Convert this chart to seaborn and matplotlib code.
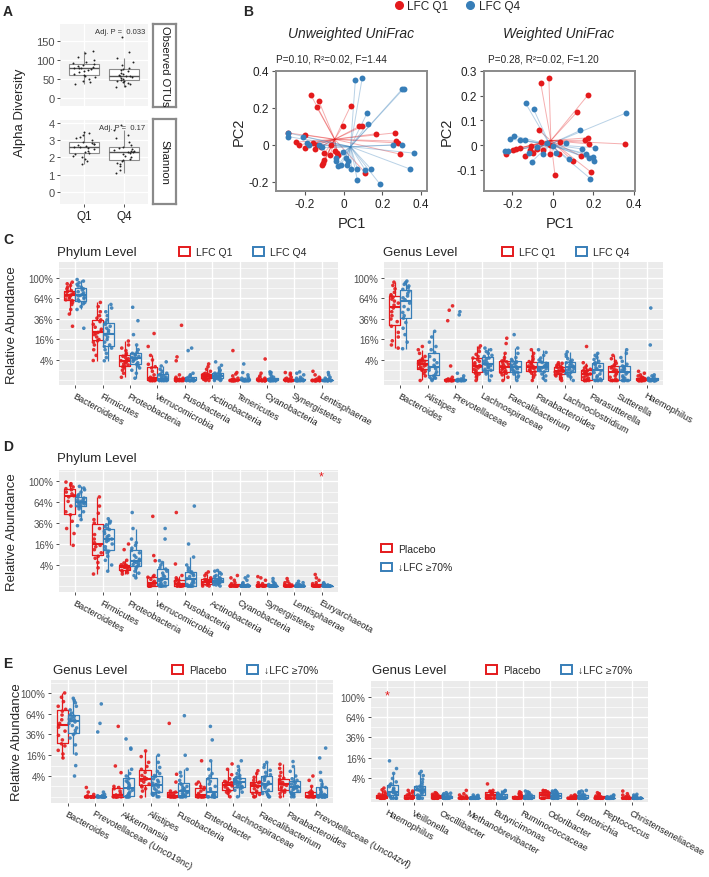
import numpy as np
import pandas as pd
import matplotlib.pyplot as plt
from matplotlib.patches import Patch
from matplotlib.lines import Line2D
import seaborn as sns

W, H = 709, 878
RED = '#E41A1C'
BLUE = '#377EB8'

# ---------------- panel A : alpha diversity
OTU_Q1 = [38, 42, 45, 50, 55, 58, 61, 64, 68, 72, 75, 77, 78, 79, 80, 82, 85, 87, 89, 91, 95, 100, 108, 118, 125]
OTU_Q4 = [30, 33, 36, 40, 42, 44, 46, 48, 50, 53, 55, 57, 58, 59, 60, 63, 66, 70, 73, 76, 80, 88, 95, 105, 122, 160]
SHANNON_Q1 = [1.6, 1.8, 1.9, 2.0, 2.1, 2.2, 2.25, 2.3, 2.4, 2.5, 2.55, 2.6, 2.6, 2.65, 2.7, 2.75, 2.8, 2.85, 2.9, 3.0, 3.1, 3.2, 3.3, 3.4, 3.5]
SHANNON_Q4 = [1.1, 1.3, 1.5, 1.6, 1.7, 1.8, 1.85, 1.9, 2.0, 2.1, 2.2, 2.25, 2.3, 2.3, 2.35, 2.4, 2.45, 2.5, 2.55, 2.6, 2.7, 2.9, 3.1, 3.3, 3.6, 3.9]

# ---------------- panel B : PCoA
UW_Q1_PC1 = [-0.29, -0.17, -0.13, -0.14, 0.035, -0.005, 0.08, 0.095, 0.165, 0.265, 0.27, 0.28, 0.29, 0.11, -0.2, -0.245,
             -0.23, -0.2, -0.16, -0.15, -0.14, -0.1, -0.1, -0.105, -0.11, -0.07, -0.065, -0.045, -0.035, -0.03, -0.12]
UW_Q1_PC2 = [0.065, 0.27, 0.24, 0.205, 0.21, 0.10, 0.10, 0.10, 0.06, 0.065, 0.02, 0.01, -0.05, -0.15, 0.055, 0.015,
             0.0, -0.015, 0.01, -0.025, 0.0, -0.045, -0.08, -0.1, -0.11, -0.055, 0.0, -0.035, -0.045, -0.055, -0.01]
UW_Q4_PC1 = [-0.29, -0.29, -0.21, -0.19, -0.18, -0.13, -0.11, 0.06, 0.095, 0.3, 0.31, 0.12, 0.125, 0.255, 0.3, 0.365,
             0.34, 0.185, 0.07, 0.07, 0.11, 0.14, 0.04, 0.015, -0.015, -0.04, -0.04, -0.03, 0.01, 0.02, -0.005]
UW_Q4_PC2 = [0.065, 0.045, 0.045, 0.01, 0.0, 0.0, -0.01, 0.35, 0.36, 0.3, 0.305, 0.17, 0.115, 0.0, 0.0, -0.045,
             -0.13, -0.21, -0.19, -0.13, -0.135, -0.13, -0.13, -0.11, -0.11, -0.09, -0.07, -0.115, -0.07, -0.085, -0.04]
W_Q1_PC1 = [-0.06, -0.02, 0.175, 0.12, 0.355, -0.07, 0.19, 0.01, 0.1, 0.14, 0.16, 0.175, 0.18, 0.035, -0.015, 0.03,
            -0.23, -0.195, -0.18, -0.16, -0.14, -0.115, -0.11, -0.1, -0.08, -0.06, -0.05, -0.015]
W_Q1_PC2 = [0.25, 0.27, 0.205, 0.135, 0.005, 0.06, -0.11, -0.12, -0.065, -0.045, 0.02, 0.03, 0.005, 0.015, -0.035, -0.035,
            -0.035, -0.018, -0.015, -0.01, -0.045, -0.018, -0.005, -0.03, -0.015, 0.015, -0.02, 0.0]
W_Q4_PC1 = [-0.135, -0.095, 0.36, 0.135, -0.21, -0.19, -0.16, -0.14, 0.065, 0.145, 0.21, 0.165, 0.18, 0.2, 0.205, 0.185,
            0.08, 0.015, -0.05, -0.105, -0.235, -0.22, -0.12, -0.08, -0.03, 0.0]
W_Q4_PC2 = [0.17, 0.145, 0.13, 0.06, 0.025, 0.037, 0.02, 0.02, 0.01, -0.015, -0.01, -0.035, -0.052, -0.047, -0.063, -0.135,
            -0.057, -0.033, -0.037, -0.067, -0.023, -0.023, -0.033, -0.007, 0.007, -0.002]
# group centroids (PC1, PC2)
UW_CENTROIDS = [(-0.047, 0.03), (0.035, -0.01)]
W_CENTROIDS = [(-0.01, 0.019), (-0.016, 0.003)]

# ---------------- panel C : LFC Q1 vs Q4, relative abundance in %
C_PHYLA = ['Bacteroidetes', 'Firmicutes', 'Proteobacteria', 'Verrucomicrobia', 'Fusobacteria',
           'Actinobacteria', 'Tenericutes', 'Cyanobacteria', 'Synergistetes', 'Lentisphaerae']
C_PHYLUM_Q1 = [
    [28, 42, 48, 55, 58, 61, 62, 64, 66, 68, 69, 69, 71, 72, 74, 76, 77, 80, 83, 86, 89, 92],
    [3.8, 6, 9, 12, 14, 15, 16, 18, 20, 21, 22, 23, 25, 27, 30, 33, 35, 37, 40, 45, 52, 58],
    [0.1, 0.5, 1.0, 1.5, 1.8, 2.0, 2.3, 2.6, 3.0, 3.3, 3.5, 3.7, 4.0, 4.5, 5.0, 5.6, 6.2, 7, 8.5, 10, 12, 14.8],
    [0, 0, 0, 0, 0, 0, 0, 0, 0.01, 0.02, 0.03, 0.05, 0.1, 0.3, 0.8, 1.5, 1.8, 2.5, 4, 6, 11, 21],
    [0, 0, 0, 0, 0, 0, 0, 0, 0, 0, 0, 0, 0.01, 0.01, 0.02, 0.03, 0.05, 0.1, 0.3, 3.7, 5.3, 29],
    [0, 0, 0.01, 0.02, 0.02, 0.05, 0.08, 0.1, 0.12, 0.15, 0.18, 0.2, 0.22, 0.25, 0.3, 0.35, 0.4, 0.5, 0.8, 1.2, 1.8, 2.6],
    [0, 0, 0, 0, 0, 0, 0, 0, 0, 0, 0, 0, 0, 0, 0, 0.01, 0.02, 0.05, 0.2, 0.4, 0.6, 8.5],
    [0, 0, 0, 0, 0, 0, 0, 0, 0, 0, 0, 0, 0, 0, 0, 0.01, 0.02, 0.05, 0.1, 0.2, 0.5, 4.4],
    [0, 0, 0, 0, 0, 0, 0, 0, 0, 0, 0, 0, 0, 0, 0, 0.01, 0.02, 0.05, 0.1, 0.3, 0.5, 0.6],
    [0, 0, 0, 0, 0, 0, 0, 0, 0, 0, 0, 0, 0, 0, 0, 0, 0.01, 0.02, 0.05, 0.1, 0.3, 0.8],
]
C_PHYLUM_Q4 = [
    [26, 48, 52, 56, 58, 60, 62, 64, 66, 68, 69, 71, 73, 75, 78, 80, 83, 85, 88, 91, 94, 97],
    [3.7, 5, 7, 9, 10, 11, 12, 14, 16, 18, 20, 22, 24, 26, 28, 30, 32, 35, 40, 45, 50, 55],
    [0.05, 0.5, 1.0, 1.5, 2.0, 2.5, 3.0, 3.5, 4.0, 4.3, 4.5, 5.0, 5.5, 6.0, 6.5, 7.0, 7.5, 9, 12, 20, 34, 51],
    [0, 0, 0, 0, 0, 0, 0, 0, 0, 0.01, 0.02, 0.05, 0.1, 0.15, 0.2, 0.3, 0.4, 0.5, 0.8, 1.2, 2.0, 3.3],
    [0, 0, 0, 0, 0, 0, 0, 0, 0, 0, 0, 0, 0.01, 0.02, 0.03, 0.05, 0.1, 0.2, 0.3, 0.5, 8.5, 10],
    [0, 0, 0.01, 0.02, 0.03, 0.05, 0.08, 0.1, 0.12, 0.15, 0.18, 0.2, 0.25, 0.3, 0.35, 0.4, 0.5, 0.7, 1.0, 1.5, 2.2, 3.3],
    [0, 0, 0, 0, 0, 0, 0, 0, 0, 0, 0, 0, 0, 0, 0, 0.01, 0.02, 0.05, 0.1, 0.3, 0.6, 2.6],
    [0, 0, 0, 0, 0, 0, 0, 0, 0, 0, 0, 0, 0, 0, 0.01, 0.02, 0.05, 0.1, 0.2, 0.4, 0.6, 0.7],
    [0, 0, 0, 0, 0, 0, 0, 0, 0, 0, 0, 0, 0, 0, 0, 0.01, 0.02, 0.05, 0.1, 0.3, 0.5, 0.7],
    [0, 0, 0, 0, 0, 0, 0, 0, 0, 0, 0, 0, 0, 0, 0, 0, 0.01, 0.02, 0.05, 0.1, 0.3, 0.6],
]
C_GENERA = ['Bacteroides', 'Alistipes', 'Prevotellaceae', 'Lachnospiraceae', 'Faecalibacterium',
            'Parabacteroides', 'Lachnoclostridium', 'Parasutterella', 'Sutterella', 'Haemophilus']
C_GENUS_Q1 = [
    [10, 12, 15, 18, 22, 28, 33, 36, 40, 45, 50, 54, 57, 60, 63, 66, 68, 70, 74, 80, 86, 92],
    [0, 0.2, 0.5, 0.8, 1.0, 1.2, 1.4, 1.7, 2.0, 2.3, 2.5, 2.7, 3.0, 3.2, 3.5, 3.8, 4.0, 4.5, 5.5, 7, 9, 11],
    [0, 0, 0, 0, 0, 0, 0, 0, 0, 0, 0, 0, 0, 0, 0, 0.01, 0.02, 0.1, 2, 34, 47, 53],
    [0, 0.1, 0.2, 0.4, 0.5, 0.6, 0.9, 1.2, 1.5, 1.8, 1.9, 2.1, 2.5, 3.0, 3.5, 4.2, 4.8, 5.5, 6.5, 8, 10, 11.4],
    [0, 0.1, 0.3, 0.5, 0.6, 0.7, 0.9, 1.1, 1.4, 1.6, 1.7, 1.9, 2.2, 2.5, 2.9, 3.3, 3.6, 4.0, 5.0, 7, 13, 17],
    [0, 0.1, 0.3, 0.5, 0.7, 0.8, 1.0, 1.2, 1.4, 1.5, 1.6, 1.8, 2.0, 2.3, 2.7, 3.0, 3.4, 3.8, 4.5, 5.5, 7, 9],
    [0, 0.05, 0.1, 0.2, 0.3, 0.35, 0.4, 0.5, 0.6, 0.7, 0.8, 0.9, 1.0, 1.2, 1.4, 1.6, 1.7, 1.9, 2.2, 2.5, 2.8, 3.0],
    [0, 0, 0, 0, 0, 0, 0.01, 0.05, 0.1, 0.2, 0.3, 0.4, 0.5, 0.6, 0.8, 0.9, 1.0, 1.2, 1.5, 2, 3, 11],
    [0, 0, 0, 0, 0, 0, 0.02, 0.1, 0.2, 0.4, 0.6, 0.8, 1.0, 1.2, 1.5, 1.8, 2.0, 2.3, 2.8, 3.5, 4.5, 6],
    [0, 0, 0, 0, 0, 0, 0, 0, 0, 0, 0, 0, 0.01, 0.02, 0.03, 0.05, 0.08, 0.1, 0.2, 0.3, 0.5, 0.8],
]
C_GENUS_Q4 = [
    [9.6, 14, 20, 26, 32, 37, 40, 44, 48, 52, 57, 62, 65, 68, 72, 76, 79, 82, 85, 88, 91, 94],
    [0, 0.02, 0.05, 0.08, 0.1, 0.2, 0.4, 0.7, 1.0, 1.3, 1.6, 1.8, 2.2, 3.0, 4.0, 5.5, 7.5, 9, 11, 14, 18, 23],
    [0, 0, 0, 0, 0, 0, 0, 0, 0, 0, 0, 0, 0, 0, 0, 0.01, 0.02, 0.05, 0.2, 0.5, 41, 45],
    [0, 0.2, 0.4, 0.6, 0.8, 1.0, 1.2, 1.5, 1.8, 2.1, 2.4, 2.6, 3.0, 3.5, 4.2, 4.8, 5.5, 6.0, 7.0, 8.0, 9.0, 10],
    [0, 0.1, 0.2, 0.4, 0.6, 0.7, 0.9, 1.1, 1.3, 1.5, 1.7, 1.9, 2.2, 2.6, 3.0, 3.3, 3.6, 4.2, 5, 7, 10, 20],
    [0, 0.05, 0.2, 0.4, 0.7, 0.9, 1.1, 1.3, 1.5, 1.6, 1.7, 1.9, 2.1, 2.4, 2.8, 3.1, 3.4, 4.0, 4.8, 6, 7.5, 9],
    [0, 0.1, 0.2, 0.35, 0.5, 0.6, 0.8, 1.0, 1.2, 1.4, 1.6, 1.8, 2.0, 2.3, 2.7, 3.0, 3.4, 3.9, 4.5, 5.5, 6.5, 7.8],
    [0, 0, 0, 0, 0, 0.02, 0.1, 0.2, 0.4, 0.6, 0.9, 1.2, 1.5, 1.9, 2.3, 2.7, 3.0, 3.5, 4.2, 5, 6, 7],
    [0, 0, 0, 0, 0, 0, 0.05, 0.1, 0.2, 0.4, 0.6, 0.8, 1.0, 1.2, 1.5, 1.8, 2.0, 2.5, 3.5, 5, 7, 9],
    [0, 0, 0, 0, 0, 0, 0, 0, 0, 0, 0, 0, 0, 0, 0.01, 0.02, 0.05, 0.1, 0.2, 0.3, 12, 50],
]

# ---------------- panel D : placebo vs LFC >= 70%
D_PHYLA = ['Bacteroidetes', 'Firmicutes', 'Proteobacteria', 'Verrucomicrobia', 'Fusobacteria',
           'Actinobacteria', 'Cyanobacteria', 'Synergistetes', 'Lentisphaerae', 'Euryarchaeota']
D_PLACEBO = [
    [15, 25, 30, 38, 46, 50, 58, 65, 72, 74, 77, 80, 84, 86, 89, 92, 95, 98],
    [1.3, 3, 5, 7, 8, 10, 12, 14, 15, 17, 20, 24, 30, 36, 40, 48, 58, 72],
    [1.3, 1.6, 1.9, 2.0, 2.2, 2.6, 3.0, 3.2, 3.3, 3.5, 3.6, 3.8, 3.9, 4.1, 4.8, 6, 12, 16],
    [0, 0, 0, 0, 0, 0, 0.01, 0.02, 0.05, 0.1, 0.2, 0.4, 0.7, 0.8, 1.0, 5.8, 8.4, 44],
    [0, 0, 0, 0, 0, 0, 0, 0.01, 0.02, 0.05, 0.1, 0.2, 0.3, 0.4, 0.6, 1.0, 4.4, 49],
    [0, 0, 0.01, 0.02, 0.05, 0.08, 0.1, 0.12, 0.15, 0.2, 0.25, 0.3, 0.35, 0.4, 0.6, 1.0, 1.4, 1.8],
    [0, 0, 0, 0, 0, 0, 0, 0, 0, 0, 0, 0, 0.01, 0.05, 0.1, 0.3, 0.6, 1.0],
    [0, 0, 0, 0, 0, 0, 0, 0, 0, 0, 0, 0, 0.01, 0.05, 0.1, 0.3, 0.6, 0.8],
    [0, 0, 0, 0, 0, 0, 0, 0, 0, 0, 0, 0, 0.01, 0.02, 0.05, 0.1, 0.2, 0.5],
    [0, 0, 0, 0, 0, 0, 0, 0, 0, 0, 0, 0, 0.01, 0.05, 0.1, 0.3, 0.6, 1.2],
]
D_LFC70 = [
    [33, 40, 45, 50, 54, 57, 58, 60, 61, 62, 63, 64, 64, 65, 67, 68, 70, 72, 74, 76, 80, 84, 87, 90],
    [2, 4, 6, 8, 10, 11, 12, 14, 16, 18, 19, 20, 20, 22, 23, 25, 27, 29, 30, 32, 34, 36, 38, 41],
    [0.6, 1.0, 1.5, 2.0, 2.8, 3.4, 3.8, 4.2, 4.6, 5.0, 5.4, 5.6, 6.0, 6.5, 7.5, 8.5, 10, 11.5, 13, 15, 17, 20, 30, 49],
    [0, 0, 0, 0, 0, 0, 0.02, 0.05, 0.1, 0.2, 0.3, 0.4, 0.5, 0.8, 1.0, 1.5, 2.0, 2.6, 3.0, 4.0, 5.0, 5.8, 20, 30],
    [0, 0, 0, 0, 0, 0, 0, 0.02, 0.05, 0.1, 0.2, 0.3, 0.5, 0.8, 1.0, 1.3, 1.6, 1.8, 2.2, 3.0, 4.0, 7.6, 16, 58],
    [0, 0.01, 0.02, 0.05, 0.08, 0.1, 0.12, 0.15, 0.18, 0.2, 0.22, 0.25, 0.3, 0.35, 0.4, 0.45, 0.5, 0.6, 0.8, 1.0, 1.3, 1.6, 2.0, 2.2],
    [0, 0, 0, 0, 0, 0, 0, 0, 0, 0, 0, 0, 0, 0, 0, 0, 0, 0.01, 0.02, 0.05, 0.1, 0.3, 0.6, 0.9],
    [0, 0, 0, 0, 0, 0, 0, 0, 0, 0, 0, 0, 0, 0, 0, 0, 0, 0, 0.01, 0.02, 0.05, 0.1, 0.2, 0.5],
    [0, 0, 0, 0, 0, 0, 0, 0, 0, 0, 0, 0, 0, 0, 0, 0, 0, 0, 0, 0.01, 0.02, 0.05, 0.1, 0.2],
    [0, 0, 0, 0, 0, 0, 0, 0, 0, 0, 0, 0, 0, 0, 0, 0, 0, 0, 0, 0.01, 0.02, 0.03, 0.05, 0.1],
]

# ---------------- panel E : genera, placebo vs LFC >= 70%
E_GENERA_1 = ['Bacteroides', 'Prevotellaceae (Unc019nc)', 'Akkermansia', 'Alistipes', 'Fusobacteria',
              'Enterobacter', 'Lachnospiraceae', 'Faecalibacterium', 'Parabacteroides', 'Prevotellaceae (Unc04zvf)']
E1_PLACEBO = [
    [14, 17, 20, 24, 26, 30, 35, 40, 45, 50, 55, 62, 68, 71, 76, 84, 92, 100],
    [0, 0, 0, 0, 0, 0, 0, 0, 0, 0, 0, 0, 0, 0, 0.01, 0.05, 0.2, 0.8],
    [0, 0, 0, 0, 0, 0, 0, 0, 0.01, 0.03, 0.1, 0.3, 0.6, 0.8, 1.0, 5.4, 8.8, 46],
    [0, 0.3, 0.6, 0.9, 1.1, 1.5, 2.0, 2.5, 2.8, 3.0, 3.5, 4.2, 5.5, 7, 8.5, 11, 15, 19.5],
    [0, 0, 0, 0, 0, 0, 0, 0, 0, 0.01, 0.03, 0.06, 0.1, 0.2, 0.3, 2, 4.7, 50],
    [0, 0, 0, 0, 0, 0, 0, 0, 0.01, 0.05, 0.1, 0.3, 0.5, 0.8, 1.0, 1.5, 2, 12],
    [0, 0.1, 0.2, 0.3, 0.4, 0.6, 0.9, 1.1, 1.3, 1.3, 1.5, 1.8, 2.0, 2.2, 3, 4.5, 7, 10],
    [0, 0, 0.05, 0.1, 0.15, 0.3, 0.6, 0.9, 1.0, 1.2, 1.4, 1.6, 1.8, 2.0, 2.5, 3.5, 5, 6.3],
    [0, 0.1, 0.2, 0.3, 0.4, 0.6, 0.9, 1.2, 1.4, 1.6, 1.9, 2.3, 2.8, 3.2, 4, 5.5, 7.5, 9.8],
    [0, 0, 0, 0, 0, 0, 0, 0, 0.01, 0.02, 0.05, 0.1, 0.15, 0.2, 0.3, 1.0, 2.5, 4],
]
E1_LFC70 = [
    [4, 9, 17, 25, 32, 36, 38, 41, 44, 47, 50, 52, 54, 55, 56, 58, 60, 62, 65, 70, 76, 82, 86, 90],
    [0, 0, 0, 0, 0, 0, 0, 0, 0, 0, 0, 0, 0, 0, 0, 0, 0, 0.01, 0.02, 0.05, 0.2, 39, 50, 80],
    [0, 0, 0, 0, 0, 0, 0.02, 0.05, 0.1, 0.2, 0.4, 0.6, 0.9, 1.2, 1.6, 2.0, 2.3, 3, 4, 5, 7, 21, 22, 31],
    [0, 0, 0.02, 0.05, 0.08, 0.1, 0.2, 0.4, 0.6, 0.9, 1.1, 1.3, 1.4, 1.7, 2.0, 2.5, 3.0, 3.8, 4.2, 5, 6, 8, 11, 16],
    [0, 0, 0, 0, 0, 0, 0.02, 0.05, 0.1, 0.15, 0.2, 0.3, 0.4, 0.6, 0.8, 1.0, 1.3, 1.6, 2.5, 4, 5.5, 7, 16, 61],
    [0, 0, 0, 0, 0, 0, 0, 0, 0.01, 0.02, 0.05, 0.1, 0.3, 0.6, 1.0, 1.5, 2.2, 3.0, 4, 5, 7, 12, 30, 46],
    [0, 0.2, 0.4, 0.6, 0.8, 0.9, 1.0, 1.2, 1.4, 1.6, 1.8, 1.9, 2.0, 2.2, 2.4, 2.7, 3.0, 3.3, 3.6, 4.2, 5, 6.5, 8.5, 12],
    [0, 0, 0.02, 0.05, 0.1, 0.2, 0.4, 0.7, 1.0, 1.2, 1.4, 1.5, 1.6, 2.0, 2.5, 3.0, 3.5, 4.0, 4.5, 5.5, 6.5, 8, 9.5, 11],
    [0, 0, 0.02, 0.05, 0.07, 0.1, 0.2, 0.3, 0.5, 0.6, 0.7, 0.8, 0.9, 1.0, 1.2, 1.5, 1.8, 2.1, 2.5, 3, 4, 6, 8.5, 11.5],
    [0, 0, 0, 0, 0, 0, 0, 0, 0, 0, 0.01, 0.02, 0.05, 0.1, 0.2, 0.4, 0.6, 0.8, 1.0, 1.5, 2.5, 5.5, 14, 22],
]
E_GENERA_2 = ['Haemophilus', 'Veillonella', 'Oscillibacter', 'Methanobrevibacter', 'Butyricimonas',
              'Ruminococcaceae', 'Odoribacter', 'Leptotrichia', 'Peptococcus', 'Christenseneliaceae']
E2_PLACEBO = [
    [0, 0, 0, 0, 0, 0, 0, 0, 0.01, 0.02, 0.05, 0.08, 0.1, 0.15, 0.2, 0.4, 0.7, 1.0],
    [0, 0, 0, 0, 0, 0, 0, 0, 0, 0.01, 0.02, 0.05, 0.08, 0.1, 0.2, 0.3, 0.5, 0.6],
    [0, 0, 0, 0, 0, 0, 0, 0, 0.01, 0.02, 0.03, 0.05, 0.08, 0.1, 0.15, 0.2, 0.25, 0.3],
    [0, 0, 0, 0, 0, 0, 0, 0, 0, 0, 0, 0, 0.01, 0.02, 0.05, 0.1, 0.2, 0.6],
    [0, 0, 0, 0, 0, 0.01, 0.02, 0.05, 0.1, 0.15, 0.2, 0.25, 0.3, 0.35, 0.4, 0.5, 0.6, 2],
    [0, 0, 0, 0, 0, 0, 0, 0, 0, 0, 0.01, 0.02, 0.05, 0.08, 0.1, 0.2, 0.3, 0.4],
    [0, 0, 0, 0, 0, 0.01, 0.03, 0.06, 0.1, 0.15, 0.2, 0.25, 0.3, 0.35, 0.4, 0.5, 0.55, 0.6],
    [0, 0, 0, 0, 0, 0, 0, 0, 0, 0, 0, 0, 0.01, 0.02, 0.03, 0.05, 0.08, 0.1],
    [0, 0, 0, 0, 0, 0, 0, 0, 0, 0, 0, 0.01, 0.02, 0.05, 0.1, 0.15, 0.2, 0.3],
    [0, 0, 0, 0, 0, 0, 0, 0, 0, 0, 0, 0, 0.01, 0.02, 0.05, 0.1, 0.2, 0.5],
]
E2_LFC70 = [
    [0, 0, 0, 0, 0.02, 0.05, 0.1, 0.15, 0.2, 0.3, 0.35, 0.4, 0.45, 0.6, 0.8, 1.0, 1.3, 1.7, 2.0, 2.6, 3.8, 6, 8.6, 13.6],
    [0, 0, 0, 0, 0.02, 0.05, 0.1, 0.2, 0.3, 0.4, 0.5, 0.6, 0.7, 0.8, 0.9, 1.0, 1.2, 1.4, 1.8, 2.5, 3.5, 5, 6, 7],
    [0, 0, 0, 0, 0, 0, 0, 0, 0, 0, 0, 0, 0, 0, 0.01, 0.02, 0.03, 0.05, 0.08, 0.1, 0.15, 0.2, 0.25, 0.3],
    [0, 0, 0, 0, 0, 0, 0, 0, 0, 0, 0, 0, 0, 0, 0, 0, 0, 0, 0.01, 0.02, 0.03, 0.05, 0.08, 0.1],
    [0, 0, 0, 0, 0, 0, 0, 0, 0, 0, 0, 0, 0.01, 0.02, 0.05, 0.08, 0.1, 0.15, 0.2, 0.25, 0.3, 0.4, 0.5, 0.6],
    [0, 0, 0, 0, 0, 0, 0, 0, 0, 0, 0, 0, 0, 0, 0.01, 0.02, 0.05, 0.08, 0.1, 0.15, 0.2, 0.3, 0.4, 0.5],
    [0, 0, 0, 0, 0, 0, 0, 0, 0.01, 0.02, 0.03, 0.05, 0.08, 0.1, 0.12, 0.15, 0.2, 0.25, 0.3, 0.35, 0.4, 0.5, 0.55, 0.6],
    [0, 0, 0, 0, 0, 0, 0, 0, 0, 0, 0, 0, 0, 0.01, 0.02, 0.05, 0.08, 0.1, 0.15, 0.2, 0.3, 0.4, 0.5, 0.6],
    [0, 0, 0, 0, 0, 0, 0, 0, 0, 0, 0, 0, 0, 0, 0, 0, 0, 0, 0.01, 0.02, 0.03, 0.05, 0.08, 0.1],
    [0, 0, 0, 0, 0, 0, 0, 0, 0, 0, 0, 0, 0, 0, 0, 0, 0, 0, 0.01, 0.02, 0.03, 0.05, 0.1, 0.15],
]

PCT_TICKS = [4, 16, 36, 64, 100]
LFC_NAMES = ['LFC Q1', 'LFC Q4']
TRIAL_NAMES = ['Placebo', '\u2193LFC \u226570%']


def px_axes(fig, x0, y0, x1, y1):
    return fig.add_axes([x0 / W, 1 - y1 / H, (x1 - x0) / W, (y1 - y0) / H])


def ggplot_look(ax, bg='#EBEBEB'):
    ax.set_facecolor(bg)
    for s in ax.spines.values():
        s.set_visible(False)
    ax.set_axisbelow(True)
    ax.tick_params(which='major', length=2.5, width=0.6, color='#333333',
                   labelcolor='#4D4D4D', left=True, bottom=True, pad=1.5)
    ax.tick_params(which='minor', length=0)


def alpha_panel(ax, q1, q4, ylim, yticks, ptext):
    df = pd.DataFrame({'quartile': ['Q1'] * len(q1) + ['Q4'] * len(q4), 'value': q1 + q4})
    sns.boxplot(data=df, x='quartile', y='value', color='white', linecolor='#8C8C8C',
                linewidth=0.8, width=0.75, showfliers=False, showcaps=False,
                medianprops={'color': '#555555', 'linewidth': 1.0}, ax=ax)
    sns.stripplot(data=df, x='quartile', y='value', color='#222222', size=1.4,
                  jitter=0.28, linewidth=0, ax=ax)
    ggplot_look(ax, '#F4F4F4')
    ax.set_xlim(-0.6, 1.6)
    ax.set_ylim(*ylim)
    ax.set_yticks(yticks)
    ax.set_yticklabels([f'{t:g}' for t in yticks], fontsize=8)
    ax.grid(True, color='white', linewidth=0.9)
    ax.set_xlabel('')
    ax.set_ylabel('')
    ax.text(0.97, 0.95, ptext, transform=ax.transAxes, ha='right', va='top', fontsize=5.5, color='#333333')


def strip_box(fig, x0, y0, x1, y1, label):
    sax = px_axes(fig, x0, y0, x1, y1)
    sax.set_facecolor('white')
    sax.set_xticks([])
    sax.set_yticks([])
    for s in sax.spines.values():
        s.set_visible(True)
        s.set_color('#8A8A8A')
        s.set_linewidth(1.6)
    sax.text(0.5, 0.5, label, rotation=-90, ha='center', va='center', fontsize=8,
             color='#1A1A1A', transform=sax.transAxes)


def pcoa_panel(ax, groups, centroids, xlim, ylim, yticks):
    for (pc1, pc2), (cx, cy), color in zip(groups, centroids, (RED, BLUE)):
        for x, y in zip(pc1, pc2):
            ax.plot([cx, x], [cy, y], color=color, alpha=0.35, linewidth=0.7, zorder=1)
        sns.scatterplot(x=pc1, y=pc2, color=color, s=18, linewidth=0, ax=ax, zorder=3)
    ax.set_facecolor('white')
    ax.grid(False)
    for s in ax.spines.values():
        s.set_visible(True)
        s.set_color('#8A8A8A')
        s.set_linewidth(1.4)
    ax.set_xlim(*xlim)
    ax.set_ylim(*ylim)
    ax.set_xticks([-0.2, 0, 0.2, 0.4])
    ax.set_xticklabels([f'{t:g}' for t in [-0.2, 0, 0.2, 0.4]], fontsize=8.5)
    ax.set_yticks(yticks)
    ax.set_yticklabels([f'{t:g}' for t in yticks], fontsize=8.5)
    ax.tick_params(length=3, width=0.8, color='#555555', labelcolor='#222222', left=True, bottom=True, pad=2)
    ax.set_xlabel('PC1', fontsize=10.5, labelpad=4)
    ax.set_ylabel('PC2', fontsize=10.5, labelpad=2)


def abundance_panel(ax, cats, red_vals, blue_vals, names, ylim):
    rows = []
    for cat, rv, bv in zip(cats, red_vals, blue_vals):
        rows += [(cat, names[0], v) for v in rv]
        rows += [(cat, names[1], v) for v in bv]
    df = pd.DataFrame(rows, columns=['taxon', 'group', 'pct'])
    df['root'] = np.sqrt(df['pct'] / 100)
    pal = {names[0]: RED, names[1]: BLUE}
    sns.boxplot(data=df, x='taxon', y='root', hue='group', order=cats, hue_order=names,
                palette=pal, fill=False, width=0.8, linewidth=0.9, showfliers=False,
                showcaps=False, medianprops={'linewidth': 1.5}, legend=False, ax=ax)
    sns.stripplot(data=df, x='taxon', y='root', hue='group', order=cats, hue_order=names,
                  palette=pal, dodge=True, jitter=0.3, size=2.6, linewidth=0, alpha=0.9,
                  legend=False, ax=ax)
    ggplot_look(ax)
    ax.set_xlim(-0.6, len(cats) - 0.4)
    ax.set_ylim(*ylim)
    ax.set_yticks(np.sqrt(np.array(PCT_TICKS) / 100))
    ax.set_yticklabels([f'{p}%' for p in PCT_TICKS], fontsize=7)
    ax.set_yticks([0, 0.1, 0.3, 0.5, 0.7, 0.9, 1.1], minor=True)
    ax.set_xticks(range(len(cats)))
    ax.set_xticklabels(cats, rotation=-29, ha='left', va='top', rotation_mode='anchor',
                       fontsize=6.7, color='#222222')
    ax.grid(True, which='major', color='white', linewidth=1.0)
    ax.grid(True, which='minor', axis='y', color='white', linewidth=0.5)
    ax.set_xlabel('')
    ax.set_ylabel('')


def box_legend(fig, names, x, y, ncol=2):
    handles = [Patch(facecolor='white', edgecolor=c, linewidth=1.4) for c in (RED, BLUE)]
    fig.legend(handles, names, loc='center left', bbox_to_anchor=(x / W, 1 - y / H), ncol=ncol,
               frameon=False, fontsize=7.5, handlelength=1.1, handleheight=0.85,
               handletextpad=0.5, columnspacing=2.0, labelspacing=0.85,
               borderaxespad=0, borderpad=0)


def main():
    np.random.seed(7)
    sns.set_theme(style='darkgrid')
    plt.rcParams['font.family'] = ['Liberation Sans', 'DejaVu Sans']
    fig = plt.figure(figsize=(W / 100, H / 100), dpi=100)
    fig.patch.set_facecolor('white')

    # panel letters
    for letter, x, y in [('A', 3, 12), ('B', 243, 12), ('C', 3, 240), ('D', 3, 447), ('E', 3, 664)]:
        fig.text(x / W, 1 - y / H, letter, fontsize=10, fontweight='bold', va='center')

    # ---- A
    ax_top = px_axes(fig, 60, 25, 148, 107)
    alpha_panel(ax_top, OTU_Q1, OTU_Q4, (-21, 195), [0, 50, 100, 150], 'Adj. P =  0.033')
    ax_top.set_xticklabels([])
    ax_top.tick_params(axis='x', length=0)
    ax_bot = px_axes(fig, 60, 121, 148, 205)
    alpha_panel(ax_bot, SHANNON_Q1, SHANNON_Q4, (-0.7, 4.17), [0, 1, 2, 3, 4], 'Adj. P =  0.17')
    ax_bot.set_xticklabels(['Q1', 'Q4'], fontsize=8.5, color='#222222')
    strip_box(fig, 153, 25, 176, 108, 'Observed OTUs')
    strip_box(fig, 153, 120, 176, 205, 'Shannon')
    fig.text(20 / W, 1 - 113 / H, 'Alpha Diversity', rotation=90, ha='center', va='center', fontsize=9.5)

    # ---- B
    ax_uw = px_axes(fig, 276, 72, 427, 192)
    pcoa_panel(ax_uw, [(UW_Q1_PC1, UW_Q1_PC2), (UW_Q4_PC1, UW_Q4_PC2)], UW_CENTROIDS,
               (-0.35, 0.43), (-0.25, 0.4), [-0.2, 0, 0.2, 0.4])
    ax_w = px_axes(fig, 484, 72, 635, 192)
    pcoa_panel(ax_w, [(W_Q1_PC1, W_Q1_PC2), (W_Q4_PC1, W_Q4_PC2)], W_CENTROIDS,
               (-0.34, 0.405), (-0.185, 0.3), [-0.1, 0, 0.1, 0.2, 0.3])
    fig.text(351 / W, 1 - 34 / H, 'Unweighted UniFrac', style='italic', fontsize=10, ha='center', va='center')
    fig.text(559 / W, 1 - 34 / H, 'Weighted UniFrac', style='italic', fontsize=10, ha='center', va='center')
    fig.text(276 / W, 1 - 60 / H, 'P=0.10, R\u00b2=0.02, F=1.44', fontsize=7.2, va='center')
    fig.text(488 / W, 1 - 60 / H, 'P=0.28, R\u00b2=0.02, F=1.20', fontsize=7.2, va='center')
    dots = [Line2D([], [], marker='o', linestyle='', color=c, markersize=5.5) for c in (RED, BLUE)]
    fig.legend(dots, LFC_NAMES, loc='center left', bbox_to_anchor=(395 / W, 1 - 7 / H), ncol=2,
               frameon=False, fontsize=8.5, handlelength=0.6, handletextpad=0.4, columnspacing=1.6,
               borderaxespad=0, borderpad=0)

    # ---- C
    ax_cp = px_axes(fig, 59, 263, 338, 386)
    abundance_panel(ax_cp, C_PHYLA, C_PHYLUM_Q1, C_PHYLUM_Q4, LFC_NAMES, (-0.044, 1.156))
    ax_cg = px_axes(fig, 384, 263, 663, 386)
    abundance_panel(ax_cg, C_GENERA, C_GENUS_Q1, C_GENUS_Q4, LFC_NAMES, (-0.044, 1.156))
    fig.text(57 / W, 1 - 253 / H, 'Phylum Level', fontsize=9.5, va='center')
    fig.text(383 / W, 1 - 253 / H, 'Genus Level', fontsize=9.5, va='center')
    box_legend(fig, LFC_NAMES, 179, 253)
    box_legend(fig, LFC_NAMES, 502, 253)
    fig.text(12 / W, 1 - 325 / H, 'Relative Abundance', rotation=90, ha='center', va='center', fontsize=9.5)

    # ---- D
    ax_d = px_axes(fig, 59, 471, 338, 593)
    abundance_panel(ax_d, D_PHYLA, D_PLACEBO, D_LFC70, TRIAL_NAMES, (-0.057, 1.105))
    ax_d.text(D_PHYLA.index('Euryarchaeota'), 1.045, '*', color=RED, ha='center', va='center', fontsize=9)
    fig.text(57 / W, 1 - 459 / H, 'Phylum Level', fontsize=9.5, va='center')
    box_legend(fig, TRIAL_NAMES, 381, 559, ncol=1)
    fig.text(12 / W, 1 - 532 / H, 'Relative Abundance', rotation=90, ha='center', va='center', fontsize=9.5)

    # ---- E
    ax_e1 = px_axes(fig, 51, 681, 333, 804)
    abundance_panel(ax_e1, E_GENERA_1, E1_PLACEBO, E1_LFC70, TRIAL_NAMES, (-0.06, 1.125))
    ax_e2 = px_axes(fig, 371, 682, 648, 803)
    abundance_panel(ax_e2, E_GENERA_2, E2_PLACEBO, E2_LFC70, TRIAL_NAMES, (-0.037, 1.157))
    ax_e2.text(E_GENERA_2.index('Haemophilus'), 1.01, '*', color=RED, ha='center', va='center', fontsize=9)
    fig.text(53 / W, 1 - 671 / H, 'Genus Level', fontsize=9.5, va='center')
    fig.text(372 / W, 1 - 671 / H, 'Genus Level', fontsize=9.5, va='center')
    box_legend(fig, TRIAL_NAMES, 172, 671)
    box_legend(fig, TRIAL_NAMES, 486, 671)
    fig.text(17 / W, 1 - 742 / H, 'Relative Abundance', rotation=90, ha='center', va='center', fontsize=9.5)

    fig.savefig('out.png', dpi=100)


if __name__ == '__main__':
    main()
